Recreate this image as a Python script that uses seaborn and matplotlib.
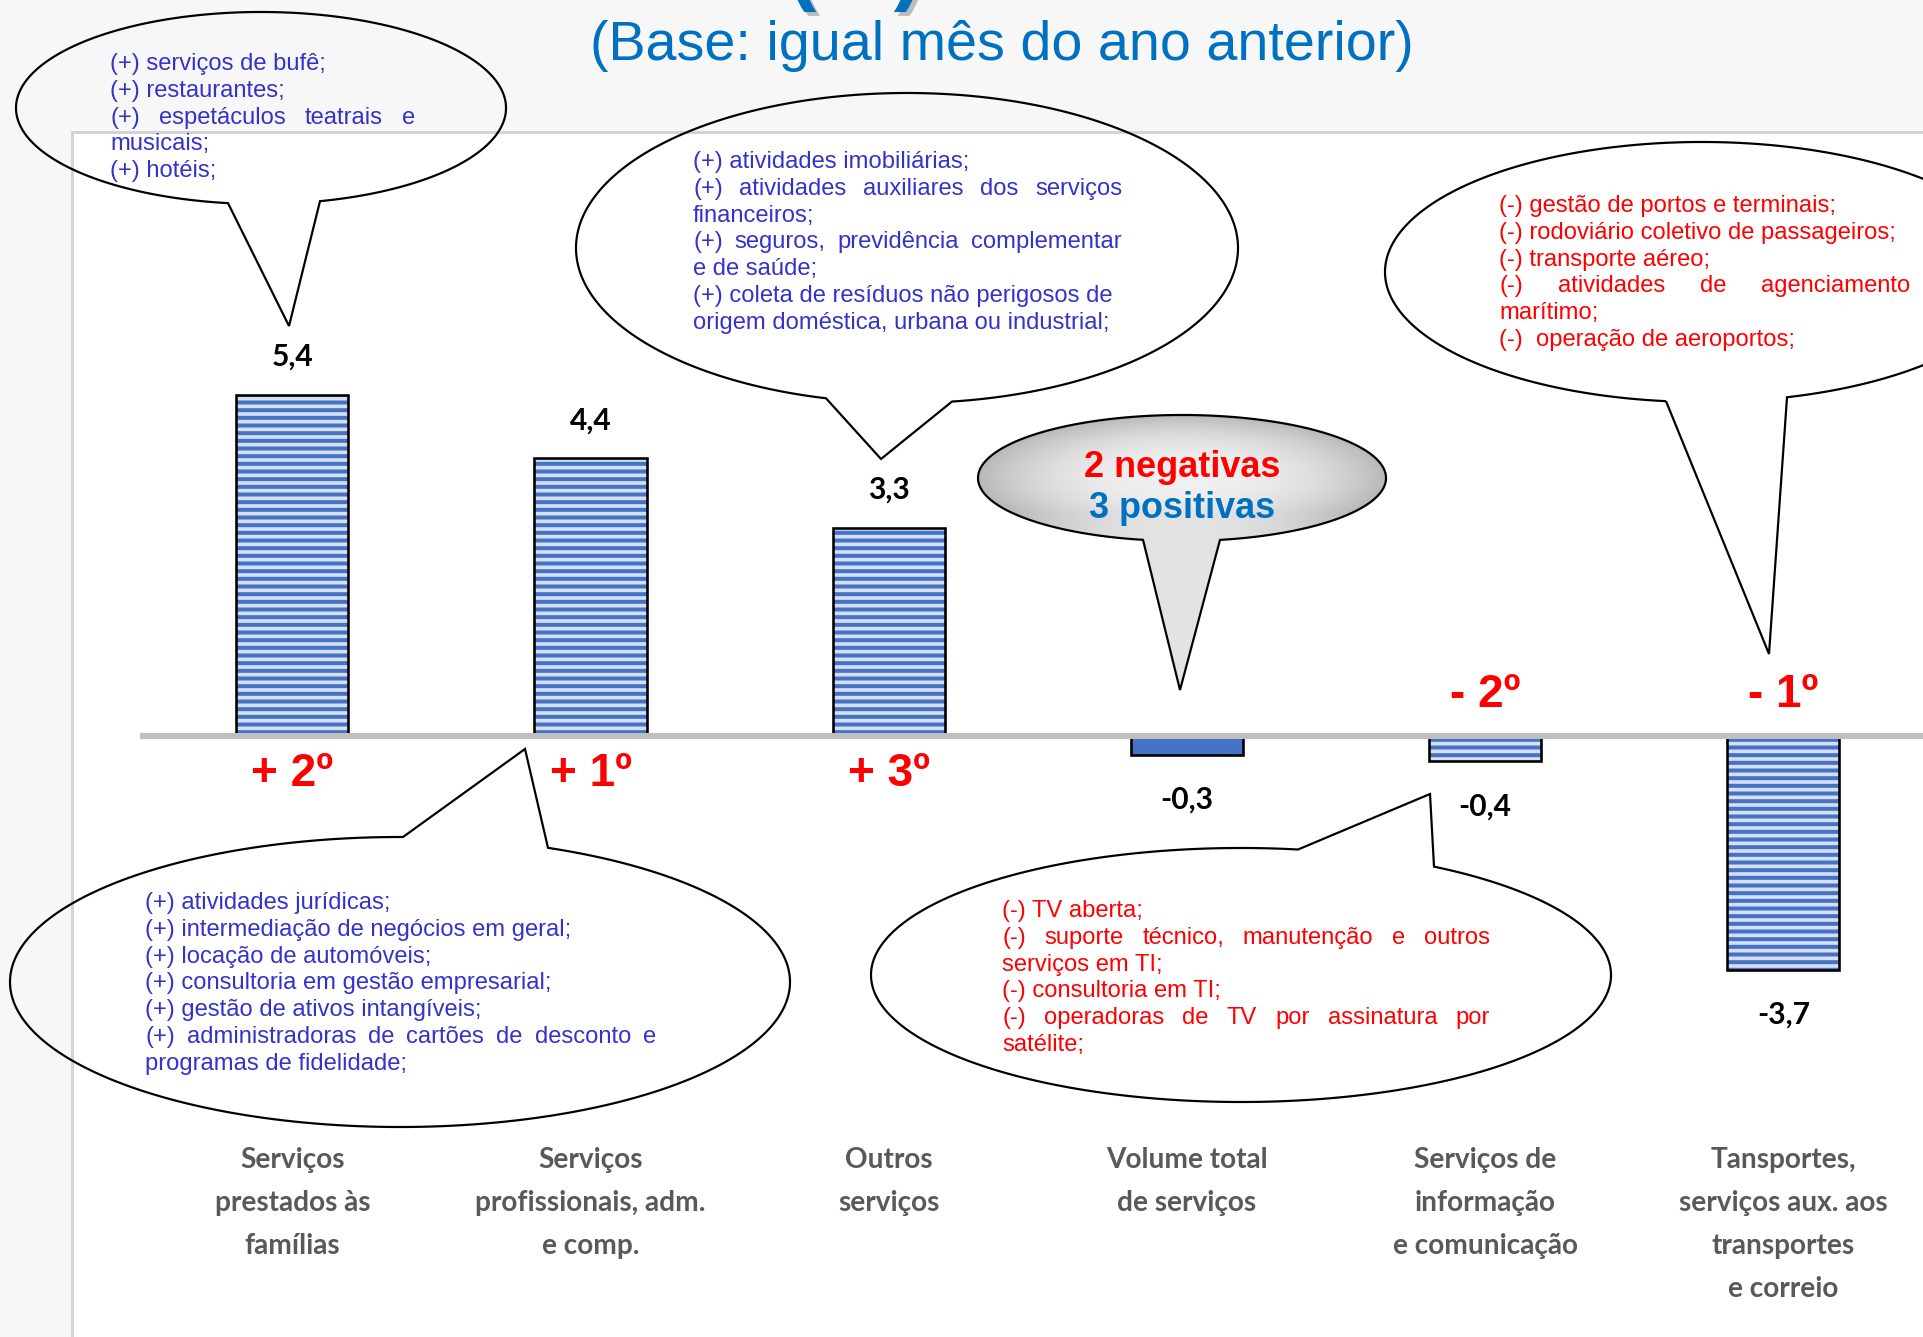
import numpy as np
import matplotlib
matplotlib.use("Agg")
import matplotlib.pyplot as plt
import matplotlib.patheffects as pe
from matplotlib.patches import Rectangle, Polygon
import seaborn as sns
import pandas as pd

# ---------------- data ----------------
categories = [
    "Serviços\nprestados às\nfamílias",
    "Serviços\nprofissionais, adm.\ne comp.",
    "Outros\nserviços",
    "Volume total\nde serviços",
    "Serviços de\ninformação\ne comunicação",
    "Tansportes,\nserviços aux. aos\ntransportes\ne correio",
]
values = [5.4, 4.4, 3.3, -0.3, -0.4, -3.7]
value_labels = ["5,4", "4,4", "3,3", "-0,3", "-0,4", "-3,7"]
rank_labels = ["+ 2º", "+ 1º", "+ 3º", "", "- 2º", "- 1º"]
striped = [True, True, True, False, True, True]

title = "(Base: igual mês do ano anterior)"
summary_neg = "2 negativas"
summary_pos = "3 positivas"

note_familias = ["(+) serviços de bufê;", "(+) restaurantes;",
                 "J(+) espetáculos teatrais e", "musicais;", "(+) hotéis;"]
note_outros = ["(+) atividades imobiliárias;",
               "J(+) atividades auxiliares dos serviços", "financeiros;",
               "J(+) seguros, previdência complementar", "e de saúde;",
               "(+) coleta de resíduos não perigosos de",
               "origem doméstica, urbana ou industrial;"]
note_transp = ["(-) gestão de portos e terminais;",
               "(-) rodoviário coletivo de passageiros;",
               "(-) transporte aéreo;",
               "J(-) atividades de agenciamento", "marítimo;",
               "(-)  operação de aeroportos;"]
note_prof = ["(+) atividades jurídicas;",
             "(+) intermediação de negócios em geral;",
             "(+) locação de automóveis;",
             "(+) consultoria em gestão empresarial;",
             "(+) gestão de ativos intangíveis;",
             "J(+) administradoras de cartões de desconto e",
             "programas de fidelidade;"]
note_info = ["(-) TV aberta;",
             "J(-) suporte técnico, manutenção e outros", "serviços em TI;",
             "(-) consultoria em TI;",
             "J(-) operadoras de TV por assinatura por", "satélite;"]

# ---------------- setup ----------------
W, H = 1923, 1337
DPI = 92


def pt(px):
    return px * 72.0 / DPI


BLUE = "#4472C4"
LIGHT = "#D6DEF2"
NOTE_BLUE = "#3333CC"
RED = "#FF0000"
TITLE_BLUE = "#0070C0"

plt.rcParams["hatch.linewidth"] = pt(4.0)
fig = plt.figure(figsize=((W + 0.01) / DPI, (H + 0.01) / DPI), dpi=DPI)
fig.patch.set_facecolor("#F7F7F7")

# background panel
bg = fig.add_axes([0, 0, 1, 1], zorder=0)
bg.set_xlim(0, W)
bg.set_ylim(H, 0)
bg.axis("off")
bg.add_patch(Rectangle((72, 132), W, H, facecolor="white",
                       edgecolor="#D4D4D4", lw=pt(3)))

# main bar axes
ax = fig.add_axes([0, 0, 1, 1], zorder=1)
ax.patch.set_alpha(0)
df = pd.DataFrame({"cat": categories, "val": values})
sns.barplot(data=df, x="cat", y="val", ax=ax, width=0.376, color=BLUE,
            saturation=1, errorbar=None)
X0, STEP = 292.3, 298.2
Y0, UNIT = 736.0, 63.15
ax.set_xlim(-X0 / STEP, (W - X0) / STEP)
ax.set_ylim(-(H - Y0) / UNIT, Y0 / UNIT)
ax.axis("off")

bars = list(ax.patches)
for i, p in enumerate(bars):
    if striped[i]:
        p.set_facecolor(LIGHT)
        p.set_hatch("--")
        p.set_edgecolor(BLUE)
    else:
        p.set_facecolor(BLUE)
        p.set_edgecolor(BLUE)
    p.set_linewidth(0)
    ax.add_patch(Rectangle((p.get_x(), p.get_y()), p.get_width(), p.get_height(),
                           fill=False, edgecolor="black", lw=pt(2.6), zorder=3))

ax.axhline(0, xmin=143 / W, xmax=1, color="#BFBFBF", lw=pt(6), zorder=4)

for i, (v, lab) in enumerate(zip(values, value_labels)):
    ax.annotate(lab, (i, v), xytext=(0, 38 if v > 0 else -45),
                textcoords="offset pixels", ha="center", va="center",
                fontsize=pt(30), fontweight="bold", family="Lato", color="black")
for i, (v, r) in enumerate(zip(values, rank_labels)):
    if r:
        ax.annotate(r, (i, 0), xytext=(0, -38 if v > 0 else 41),
                    textcoords="offset pixels", ha="center", va="center",
                    fontsize=pt(46), fontweight="bold",
                    family="Liberation Sans", color=RED)
for i, cat in enumerate(categories):
    for k, line in enumerate(cat.split("\n")):
        ax.annotate(line, (i, 0), xytext=(0, -(424 + 43 * k)),
                    textcoords="offset pixels", ha="center", va="center",
                    fontsize=pt(28), fontweight="bold", family="Lato",
                    color="#595959")

# overlay in pixel coordinates for callouts
ov = fig.add_axes([0, 0, 1, 1], zorder=2)
ov.patch.set_alpha(0)


def bubble_pts(cx, cy, a, b, bx1, bx2, tip, top=False):
    def t_of(x):
        t = np.arccos(np.clip((x - cx) / a, -1, 1))
        return 2 * np.pi - t if top else t
    ta, tb = sorted([t_of(bx1), t_of(bx2)])
    ts = np.linspace(tb, ta + 2 * np.pi, 600)
    pts = np.column_stack([cx + a * np.cos(ts), cy + b * np.sin(ts)])
    return np.vstack([pts, [tip]])


def bubble(cx, cy, a, b, bx1, bx2, tip, top=False, face="none", z=3):
    poly = Polygon(bubble_pts(cx, cy, a, b, bx1, bx2, tip, top), closed=True,
                   facecolor=face, edgecolor="black", lw=pt(2.2), zorder=z)
    ov.add_patch(poly)
    return poly


renderer = fig.canvas.get_renderer()
FS_NOTE = pt(23.8)


def note(lines, x0, x1, y_first, color, step=26.8):
    for k, line in enumerate(lines):
        yb = y_first + step * k + 6
        kw = dict(fontsize=FS_NOTE, family="Liberation Sans", color=color,
                  va="baseline", ha="left", zorder=6)
        if line.startswith("J"):
            words = line[1:].split()
            texts = [ov.text(0, yb, w, **kw) for w in words]
            widths = [t.get_window_extent(renderer).width for t in texts]
            gap = (x1 - x0 - sum(widths)) / (len(words) - 1)
            x = x0
            for t, wd in zip(texts, widths):
                t.set_x(x)
                x += wd + gap
        else:
            ov.text(x0, yb, line, **kw)


# top-left bubble (famílias)
bubble(261, 108, 245, 96, 228, 320, (289, 326))
note(note_familias, 110, 415, 64, NOTE_BLUE)
# top-middle bubble (outros)
bubble(907, 248, 331, 155, 826, 952, (881, 459))
note(note_outros, 693, 1122, 162, NOTE_BLUE)
# top-right bubble (transportes)
bubble(1702, 272, 317, 130, 1666, 1787, (1769, 654))
note(note_transp, 1499, 1910, 206, RED)
# bottom-left bubble (profissionais)
bubble(400, 982, 390, 145, 403, 548, (525, 749), top=True)
note(note_prof, 145, 656, 903, NOTE_BLUE)
# bottom-middle bubble (informação)
bubble(1241, 975, 370, 127, 1298, 1434, (1430, 794), top=True)
note(note_info, 1002, 1490, 911, RED)

# grey summary bubble with radial gradient
gcx, gcy, ga, gb = 1182, 478, 204, 63
gpoly = bubble(gcx, gcy, ga, gb, 1143, 1220, (1180, 690), face="none", z=4)
gx = np.linspace(970, 1395, 300)
gy = np.linspace(410, 700, 220)
GX, GY = np.meshgrid(gx, gy)
dy = np.minimum((GY - gcy) / gb, 0.55)
rr = np.clip(np.sqrt(((GX - gcx) / ga) ** 2 + dy ** 2), 0, 1)
shade = 0.94 - 0.22 * rr ** 2.5
img = ov.imshow(shade, extent=(970, 1395, 700, 410), origin="upper",
                cmap="gray", vmin=0, vmax=1, aspect="auto", zorder=3.5,
                interpolation="bilinear")
img.set_clip_path(gpoly)
ov.text(1182, 477, summary_neg, ha="center", va="baseline", fontsize=pt(36),
        fontweight="bold", family="Liberation Sans", color=RED, zorder=6)
ov.text(1182, 518, summary_pos, ha="center", va="baseline", fontsize=pt(36),
        fontweight="bold", family="Liberation Sans", color=TITLE_BLUE, zorder=6)

# titles
ov.text(1002, 60, title, ha="center", va="baseline", fontsize=pt(55.6),
        family="Liberation Sans", color=TITLE_BLUE, zorder=6)
ov.text(855, -6, "(%)", ha="center", va="baseline", fontsize=pt(87),
        fontweight="bold", family="Liberation Sans", color=TITLE_BLUE, zorder=6,
        path_effects=[pe.withSimplePatchShadow(offset=(3, -3),
                                               shadow_rgbFace="#808080",
                                               alpha=0.5)])

ov.set_xlim(0, W)
ov.set_ylim(H, 0)
ov.axis("off")

fig.savefig("out.png", dpi=DPI, facecolor=fig.get_facecolor())
